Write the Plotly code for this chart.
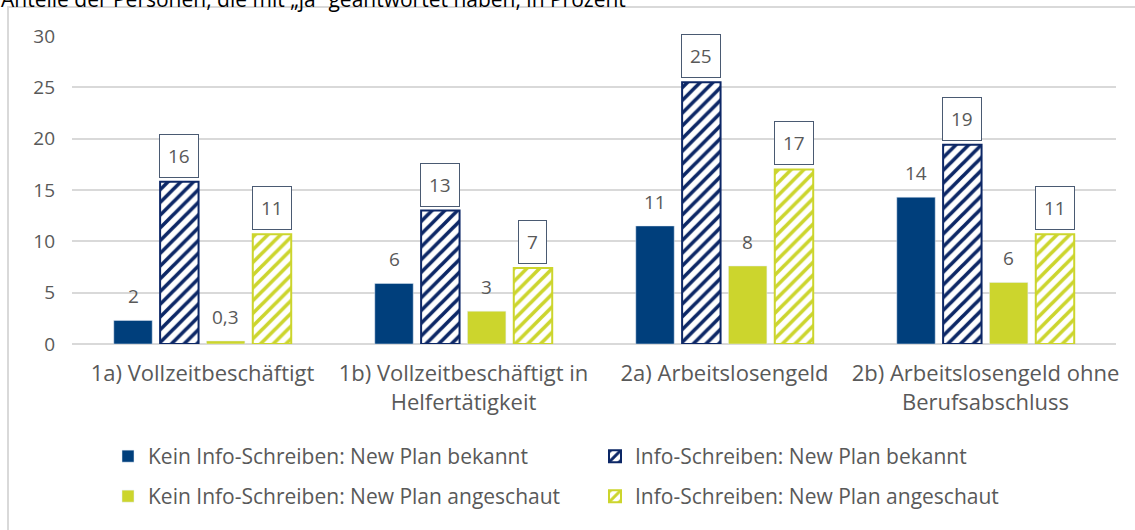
import plotly.graph_objects as go

categories = ["1a) Vollzeitbeschäftigt",
              "1b) Vollzeitbeschäftigt in<br>Helfertätigkeit",
              "2a) Arbeitslosengeld",
              "2b) Arbeitslosengeld ohne<br>Berufsabschluss"]

series_names = ["Kein Info-Schreiben: New Plan bekannt",
                "Info-Schreiben: New Plan bekannt",
                "Kein Info-Schreiben: New Plan angeschaut",
                "Info-Schreiben: New Plan angeschaut"]

kein_bekannt = [2.3, 5.9, 11.5, 14.3]
info_bekannt = [15.8, 13.0, 25.5, 19.4]
kein_angeschaut = [0.3, 3.2, 7.6, 6.0]
info_angeschaut = [10.7, 7.4, 17.0, 10.7]

labels_kein_bekannt = ["2", "6", "11", "14"]
labels_info_bekannt = ["16", "13", "25", "19"]
labels_kein_angeschaut = ["0,3", "3", "8", "6"]
labels_info_angeschaut = ["11", "7", "17", "11"]

y_ticks = [0, 5, 10, 15, 20, 25, 30]
title_text = "Anteile der Personen, die mit „ja“ geantwortet haben, in Prozent"

NAVY = "#003f7c"
NAVY_H = "#0c2766"
LIME = "#ccd52d"
TEXT = "#595959"
FONT = "Open Sans"

W, H = 1135, 530
ML, MR, MT, MB = 72, 19, 36, 186
pw, ph = W - ML - MR, H - MT - MB

BARGAP = 0.29
fig = go.Figure()

series = [
    (kein_bekannt, labels_kein_bekannt, dict(color=NAVY), False, "legend"),
    (info_bekannt, labels_info_bekannt,
     dict(color="white", line=dict(color=NAVY_H, width=2),
          pattern=dict(shape="/", fgcolor=NAVY_H, bgcolor="white", size=9, solidity=0.4, fillmode="replace")),
     True, "legend"),
    (kein_angeschaut, labels_kein_angeschaut, dict(color=LIME), False, "legend2"),
    (info_angeschaut, labels_info_angeschaut,
     dict(color="white", line=dict(color=LIME, width=2),
          pattern=dict(shape="/", fgcolor=LIME, bgcolor="white", size=9, solidity=0.4, fillmode="replace")),
     True, "legend2"),
]

slot = (1 - BARGAP) / len(series)
for j, (vals, labs, marker, boxed, leg) in enumerate(series):
    fig.add_trace(go.Bar(x=categories, y=vals, name=series_names[j], marker=marker, legend=leg))
    off = (j - (len(series) - 1) / 2) * slot
    for i, (v, t) in enumerate(zip(vals, labs)):
        if boxed:
            fig.add_annotation(x=i + off, y=v, text=t, showarrow=False, xref="x", yref="y",
                               yanchor="bottom", yshift=4, bgcolor="white",
                               bordercolor="#4a5a72", borderwidth=1, borderpad=8,
                               font=dict(family=FONT, size=19, color=TEXT))
        else:
            fig.add_annotation(x=i + off, y=v, text=t, showarrow=False, xref="x", yref="y",
                               yanchor="bottom", yshift=9,
                               font=dict(family=FONT, size=19, color=TEXT))

# title (partially clipped at the top)
fig.add_annotation(text=title_text, xref="paper", yref="paper", x=(-1 - ML) / pw,
                   y=1 + (MT + 1) / ph, xanchor="left", yanchor="middle", showarrow=False,
                   font=dict(family=FONT, size=21, color="#000000"))

# outer frame
fig.add_shape(type="rect", xref="paper", yref="paper",
              x0=(8 - ML) / pw, x1=(W + 20 - ML) / pw,
              y0=-(H + 20 - MT - ph) / ph, y1=1 + (MT - 7) / ph,
              line=dict(color="#d9d9d9", width=2), fillcolor="rgba(0,0,0,0)", layer="below")

fig.update_layout(
    width=W, height=H,
    margin=dict(l=ML, r=MR, t=MT, b=MB, autoexpand=False),
    paper_bgcolor="white", plot_bgcolor="white",
    barmode="group", bargap=BARGAP, bargroupgap=0.17,
    font=dict(family=FONT, size=19, color=TEXT),
    xaxis=dict(showgrid=False, showline=False, ticks="", tickfont=dict(size=22, color=TEXT),
               ticklabelstandoff=14, automargin=False),
    yaxis=dict(range=[0, 30], tickvals=y_ticks, showgrid=True, gridcolor="#d9d9d9", gridwidth=2,
               zeroline=True, zerolinecolor="#d9d9d9", zerolinewidth=2, ticks="",
               tickfont=dict(size=19, color=TEXT), ticklabelstandoff=16, automargin=False),
    legend=dict(orientation="h", x=(108 - ML) / pw, y=-(436 - MT - ph) / ph, xanchor="left", yanchor="top",
                entrywidth=442, entrywidthmode="pixels", font=dict(size=21, color=TEXT),
                bgcolor="rgba(0,0,0,0)"),
    legend2=dict(orientation="h", x=(108 - ML) / pw, y=-(476 - MT - ph) / ph, xanchor="left", yanchor="top",
                 entrywidth=442, entrywidthmode="pixels", font=dict(size=21, color=TEXT),
                 bgcolor="rgba(0,0,0,0)"),
)

fig.write_html("out.html", config={"displayModeBar": False},
               post_script="document.body.style.margin='0';document.body.style.padding='0';")
